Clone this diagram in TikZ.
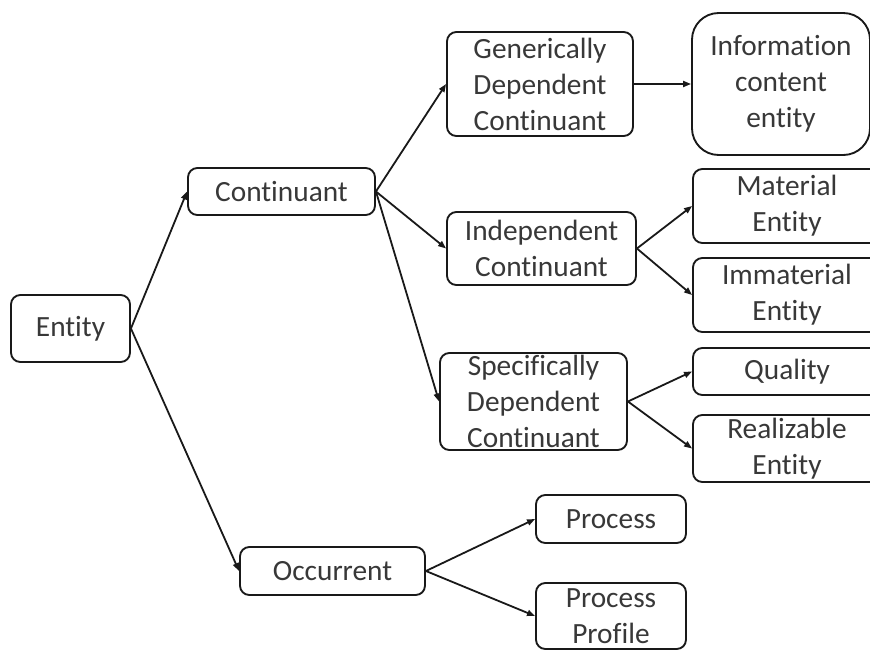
\documentclass[tikz,border=0pt]{standalone}
\usepackage{fontspec}
\setmainfont{Carlito}[Ligatures={NoCommon}]
\usetikzlibrary{arrows.meta}
\begin{document}
\begin{tikzpicture}[x=0.75pt,y=-0.75pt,
  box/.style={draw=black!90, line width=1.4pt, rounded corners=7pt, fill=white,
    text=black!78, align=center, inner sep=0pt,
    font=\fontsize{22}{27}\selectfont},
  sz/.style 2 args={minimum width=#1*0.75pt, minimum height=#2*0.75pt},
  link/.style={line width=1.35pt, draw=black!90, -{Triangle[length=6pt,width=4.5pt]}}]
\useasboundingbox (0,0) rectangle (870,650);
\clip (0,0) rectangle (870,650);

% root and first level
\node[box, sz={119}{67}] (ent) at (70.5,328.5) {Entity};
\node[box, sz={187}{47}] (cont) at (281.5,191.5) {Continuant};
\node[box, sz={185}{48}] (occ) at (332.5,571) {Occurrent};

% kinds of continuant
\node[box, sz={186}{104}] (gdc) at (540,84) {Generically\\Dependent\\Continuant};
\node[box, sz={189}{73}] (ic) at (541.5,248.5) {Independent\\Continuant};
\node[box, sz={187}{97}] (sdc) at (533.5,401.5) {Specifically\\Dependent\\Continuant};

% leaves
\node[box, sz={178}{142}, rounded corners=20pt] (ice) at (781,84) {Information\\content\\entity};
\node[box, sz={188}{74}] (mat) at (787,206) {Material\\Entity};
\node[box, sz={188}{74}] (imm) at (787,295) {Immaterial\\Entity};
\node[box, sz={188}{47}] (qual) at (787,371.5) {Quality};
\node[box, sz={188}{67}] (real) at (787,448.5) {Realizable\\Entity};
\node[box, sz={150}{48}] (proc) at (611,519) {Process};
\node[box, sz={150}{66}] (pp) at (611,616) {Process\\Profile};

% connectors
\draw[link] (ent.east) -- (cont.west);
\draw[link] (ent.east) -- (occ.west);
\draw[link] (cont.east) -- (gdc.west);
\draw[link] (cont.east) -- (ic.west);
\draw[link] (cont.east) -- (sdc.west);
\draw[link] (gdc.east) -- (ice.west);
\draw[link] (ic.east) -- (mat.west);
\draw[link] (ic.east) -- (imm.west);
\draw[link] (sdc.east) -- (qual.west);
\draw[link] (sdc.east) -- (real.west);
\draw[link] (occ.east) -- (proc.west);
\draw[link] (occ.east) -- (pp.west);
\end{tikzpicture}
\end{document}
